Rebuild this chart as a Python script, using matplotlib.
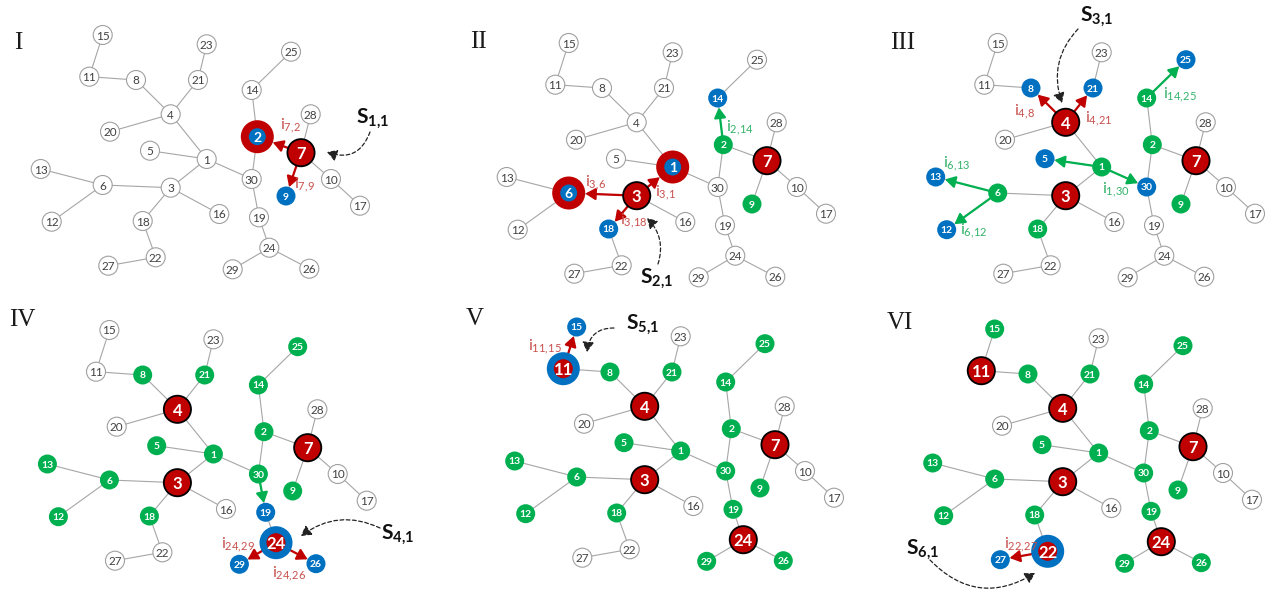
import matplotlib
matplotlib.use('Agg')
import matplotlib.pyplot as plt
from matplotlib.patches import Circle, FancyArrowPatch

plt.rcParams['font.family'] = ['Lato', 'DejaVu Sans']
plt.rcParams['mathtext.fontset'] = 'custom'
plt.rcParams['mathtext.rm'] = 'Lato'
plt.rcParams['mathtext.it'] = 'Lato:italic'
plt.rcParams['mathtext.bf'] = 'Lato:bold'

# ---------------- data ----------------
NODES = list(range(1, 31))
# layout of the tree (coordinates of panel I, in pixels)
LAYOUT_X = [206.7, 257.3, 170.7, 170.7, 150.0, 102.7, 301.0, 136.0, 286.0, 331.0,
            89.3, 51.7, 40.7, 251.7, 102.7, 219.3, 360.0, 142.7, 259.0, 110.0,
            198.0, 155.7, 206.7, 269.3, 291.0, 309.3, 108.3, 310.7, 232.7, 251.7]
LAYOUT_Y = [159.0, 136.7, 187.7, 114.3, 150.7, 185.0, 152.7, 80.0, 196.0, 179.0,
            76.7, 221.7, 169.0, 90.0, 35.0, 214.0, 205.7, 221.0, 217.3, 131.7,
            80.0, 257.3, 44.3, 247.7, 51.7, 268.7, 265.7, 114.3, 269.3, 179.0]
EDGES = [(15, 11), (11, 8), (8, 4), (23, 21), (21, 4), (4, 20), (4, 1), (5, 1),
         (1, 3), (1, 30), (25, 14), (14, 2), (2, 30), (2, 7), (7, 28), (7, 10),
         (10, 17), (7, 9), (13, 6), (6, 3), (6, 12), (3, 16), (3, 18), (18, 22),
         (22, 27), (30, 19), (19, 24), (24, 29), (24, 26)]

PANEL_NAMES = ['I', 'II', 'III', 'IV', 'V', 'VI']
SEEDS = ['1,1', '2,1', '3,1', '4,1', '5,1', '6,1']

RED = [[7], [3, 7], [4, 3, 7], [4, 3, 7], [4, 3, 7, 24], [11, 4, 3, 7, 24]]
RED_RING_BLUE = [[2], [1, 6], [], [], [], []]
BLUE_RING_RED = [[], [], [], [24], [11], [22]]
BLUE = [[9], [18, 14], [8, 21, 5, 30, 13, 12, 25], [19, 29, 26], [15], [27]]
GREEN = [[], [2, 9], [14, 2, 1, 6, 18, 9],
         [8, 21, 25, 14, 2, 5, 1, 13, 6, 12, 18, 30, 9],
         [8, 21, 25, 14, 2, 5, 1, 13, 6, 12, 18, 30, 9, 19, 29, 26],
         [15, 8, 21, 25, 14, 2, 5, 1, 13, 6, 12, 18, 30, 9, 19, 29, 26]]

# infection arrows per panel: (source, target, kind)
ARROWS = [[(7, 2, 'r'), (7, 9, 'r')],
          [(3, 6, 'r'), (3, 1, 'r'), (3, 18, 'r'), (2, 14, 'g')],
          [(4, 8, 'r'), (4, 21, 'r'), (1, 5, 'g'), (1, 30, 'g'), (6, 13, 'g'),
           (6, 12, 'g'), (14, 25, 'g')],
          [(30, 19, 'g'), (24, 29, 'r'), (24, 26, 'r')],
          [(11, 15, 'r')],
          [(22, 27, 'r')]]
# labelled arrows: (panel, source, target, kind)
ARROW_LABELS = [(0, 7, 2, 'r'), (0, 7, 9, 'r'),
                (1, 3, 6, 'r'), (1, 3, 1, 'r'), (1, 3, 18, 'r'), (1, 2, 14, 'g'),
                (2, 4, 8, 'r'), (2, 4, 21, 'r'), (2, 6, 13, 'g'), (2, 1, 30, 'g'),
                (2, 6, 12, 'g'), (2, 14, 25, 'g'),
                (3, 24, 29, 'r'), (3, 24, 26, 'r'),
                (4, 11, 15, 'r'),
                (5, 22, 27, 'r')]

# ---------------- layout / style ----------------
OFFSETS = [(0, 0), (466, 8), (895, 8), (6.7, 295), (474, 292), (892, 294)]
NUMERAL_POS = [(18, 43), (478, 42), (903, 43), (22, 320), (475, 319), (900, 323)]
ARROW_LABEL_POS = [(290, 126), (304, 185),
                   (596, 183), (665, 193), (634, 221), (740, 128),
                   (1024, 112), (1099, 119), (957, 164), (1116, 190),
                   (974, 231), (1180, 95),
                   (238, 545), (289, 574),
                   (545, 347),
                   (1021, 545)]
SEED_POS = [(373, 118), (657, 278), (1097, 16), (398, 534), (643, 324), (923, 549)]
SEED_CURVE = [((370, 132), (327, 152), -0.5),
              ((658, 264), (647, 218), 0.3),
              ((1078, 29), (1062, 103), 0.3),
              ((380, 528), (301, 536), 0.3),
              ((614, 328), (587, 352), 0.45),
              ((930, 560), (1035, 573), 0.4)]

C_RED = '#C00000'
C_BLUE = '#0070C0'
C_GREEN = '#00B050'
C_RED_TXT = '#C8504D'
C_GREEN_TXT = '#34B26A'
C_EDGE = '#A6A6A6'

R_SMALL = 9.5
R_RED = 13.6
R_RING = 16.5

fig = plt.figure(figsize=(12.66, 5.92), dpi=100)
ax = fig.add_axes([0, 0, 1, 1])
ax.set_xlim(0, 1266)
ax.set_ylim(592, 0)
ax.axis('off')


def npos(p, n):
    return (LAYOUT_X[n - 1] + OFFSETS[p][0], LAYOUT_Y[n - 1] + OFFSETS[p][1])


def state(p, n):
    if n in RED[p]:
        return 'r'
    if n in RED_RING_BLUE[p]:
        return 'rb'
    if n in BLUE_RING_RED[p]:
        return 'br'
    if n in BLUE[p]:
        return 'b'
    if n in GREEN[p]:
        return 'g'
    return 'w'


def radius(s):
    return {'r': R_RED, 'rb': R_RING, 'br': R_RING}.get(s, R_SMALL)


for p in range(6):
    # edges
    for a, b in EDGES:
        xa, ya = npos(p, a)
        xb, yb = npos(p, b)
        ax.plot([xa, xb], [ya, yb], color=C_EDGE, lw=0.8, zorder=1,
                solid_capstyle='butt')
    # arrows
    for a, b, kind in ARROWS[p]:
        xa, ya = npos(p, a)
        xb, yb = npos(p, b)
        dx, dy = xb - xa, yb - ya
        d = (dx ** 2 + dy ** 2) ** 0.5
        ra = radius(state(p, a))
        rb = radius(state(p, b))
        start = (xa + dx / d * ra, ya + dy / d * ra)
        end = (xb - dx / d * rb, yb - dy / d * rb)
        col = C_RED if kind == 'r' else C_GREEN
        ax.add_patch(FancyArrowPatch(start, end,
                                     arrowstyle='-|>,head_length=0.6,head_width=0.35',
                                     mutation_scale=10, color=col, lw=1.6,
                                     shrinkA=0, shrinkB=0, zorder=2))
    # nodes
    for n in NODES:
        x, y = npos(p, n)
        s = state(p, n)
        lab = str(n)
        if s == 'w':
            ax.add_patch(Circle((x, y), R_SMALL, fc='white', ec='#A0A0A0',
                                lw=0.8, zorder=3))
            ax.text(x, y, lab, color='#404040', fontsize=8.5, ha='center',
                    va='center_baseline', zorder=4)
        elif s in ('b', 'g'):
            ax.add_patch(Circle((x, y), R_SMALL, fc=C_BLUE if s == 'b' else C_GREEN,
                                ec='none', zorder=3))
            ax.text(x, y, lab, color='white', fontsize=7.5, fontweight='bold',
                    ha='center', va='center_baseline', zorder=4)
        elif s == 'r':
            ax.add_patch(Circle((x, y), R_RED, fc=C_RED, ec='black', lw=1.3,
                                zorder=3))
            ax.text(x, y, lab, color='white', fontsize=12, fontweight='bold',
                    ha='center', va='center_baseline', zorder=4)
        elif s == 'rb':
            ax.add_patch(Circle((x, y), R_RING, fc=C_RED, ec='none', zorder=3))
            ax.add_patch(Circle((x, y), 8.5, fc=C_BLUE, ec='none', zorder=3))
            ax.text(x, y, lab, color='white', fontsize=10, fontweight='bold',
                    ha='center', va='center_baseline', zorder=4)
        else:  # 'br'
            ax.add_patch(Circle((x, y), R_RING, fc=C_BLUE, ec='none', zorder=3))
            ax.add_patch(Circle((x, y), 9.5, fc=C_RED, ec='none', zorder=3))
            ax.text(x, y, lab, color='white', fontsize=12, fontweight='bold',
                    ha='center', va='center_baseline', zorder=4)
    # panel numeral
    ax.text(*NUMERAL_POS[p], PANEL_NAMES[p], family='Liberation Serif',
            fontsize=18, ha='center', va='center', color='#1A1A1A', zorder=5)
    # seed label and dashed pointer
    sub = SEEDS[p].replace(',', '{,}')
    ax.text(*SEED_POS[p], r'$\mathbf{S}_{\mathbf{' + sub + '}}$',
            fontsize=15, ha='center', va='center', color='#111111', zorder=5)
    (s0, s1, rad) = SEED_CURVE[p]
    ax.add_patch(FancyArrowPatch(s0, s1, connectionstyle=f'arc3,rad={rad}',
                                 arrowstyle='-|>,head_length=0.6,head_width=0.35',
                                 mutation_scale=10, color='#222222', lw=0.9,
                                 linestyle=(0, (3, 2)), shrinkA=0, shrinkB=0,
                                 zorder=5))

# arrow labels i_{a,b}
for (p, a, b, kind), (lx, ly) in zip(ARROW_LABELS, ARROW_LABEL_POS):
    ax.text(lx, ly, r'$\mathrm{i}_{' + f'{a}{{,}}{b}' + '}$', fontsize=11.5,
            color=C_RED_TXT if kind == 'r' else C_GREEN_TXT,
            ha='center', va='center', zorder=5)

fig.savefig('out.png', dpi=100, facecolor='white')
